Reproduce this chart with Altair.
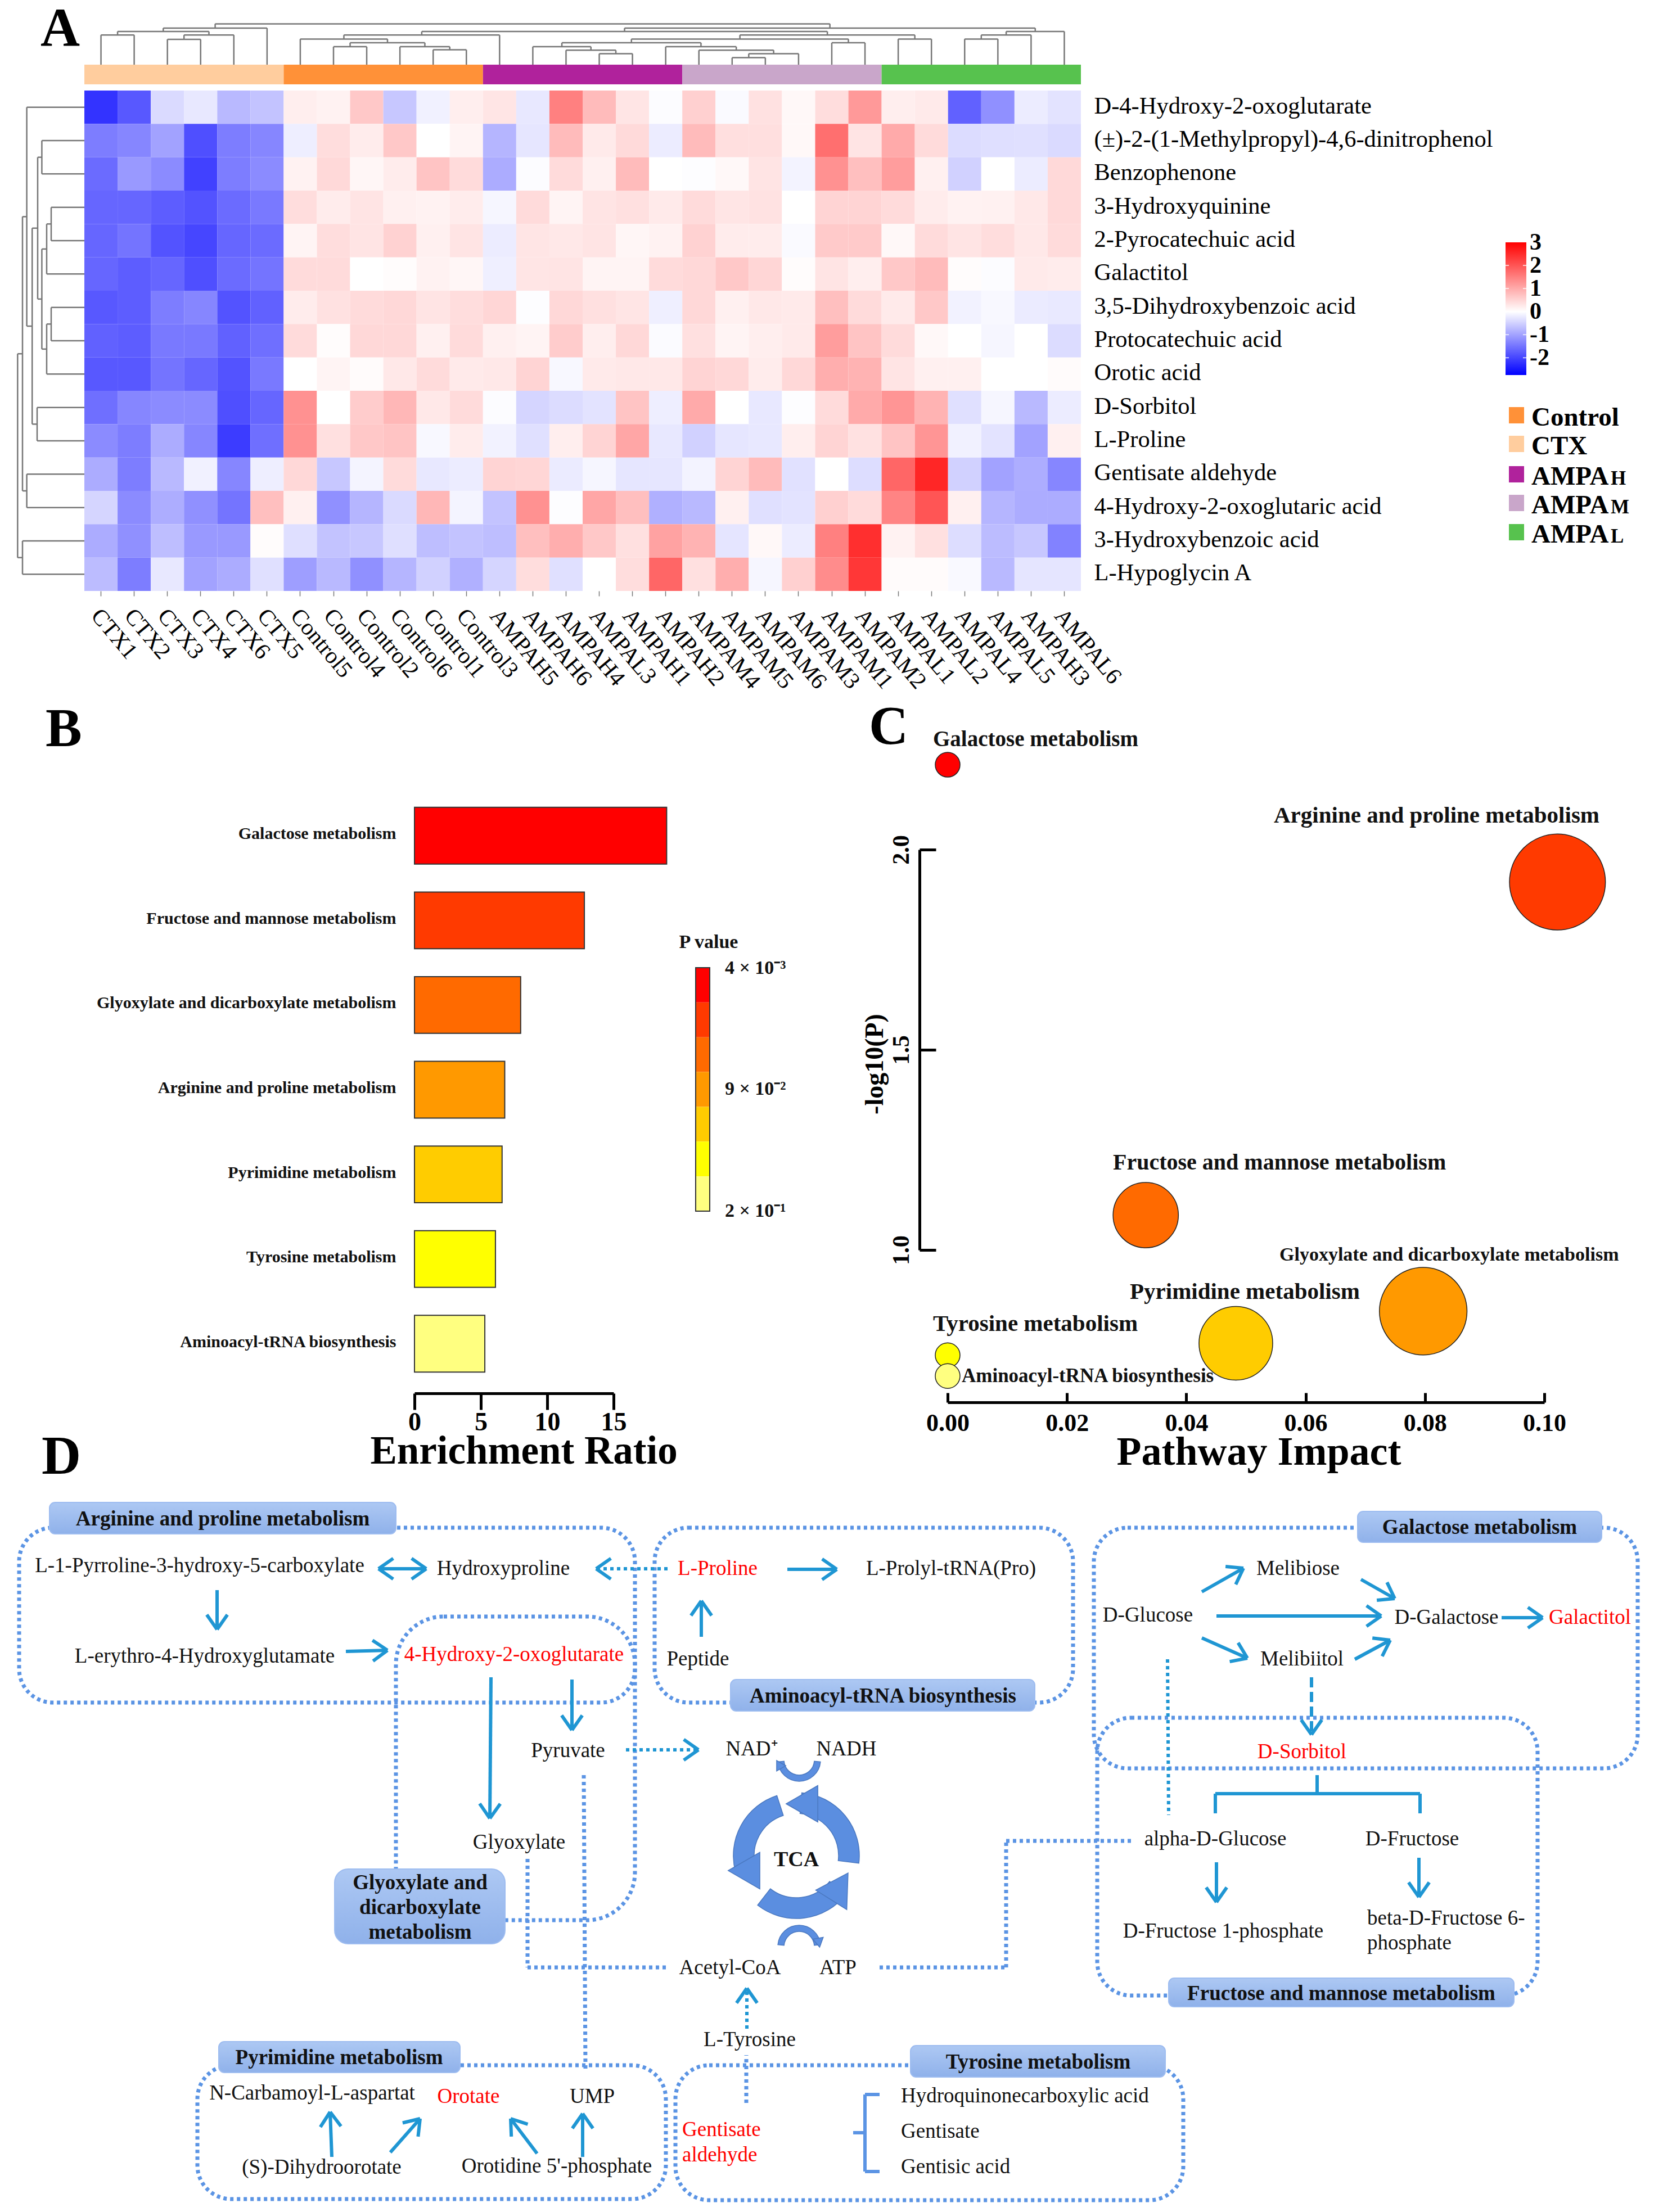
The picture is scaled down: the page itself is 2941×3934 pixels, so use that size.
import altair as alt
import pandas as pd
import math

SERIF = "Liberation Serif"
W, H = 2925, 3918

samples = ["CTX1","CTX2","CTX3","CTX4","CTX6","CTX5","Control5","Control4","Control2","Control6","Control1","Control3",
           "AMPAH5","AMPAH6","AMPAH4","AMPAL3","AMPAH1","AMPAH2","AMPAM4","AMPAM5","AMPAM6","AMPAM3","AMPAM1","AMPAM2",
           "AMPAL1","AMPAL2","AMPAL4","AMPAL5","AMPAH3","AMPAL6"]
metabolites = ["D-4-Hydroxy-2-oxoglutarate","(±)-2-(1-Methylpropyl)-4,6-dinitrophenol","Benzophenone","3-Hydroxyquinine",
               "2-Pyrocatechuic acid","Galactitol","3,5-Dihydroxybenzoic acid","Protocatechuic acid","Orotic acid",
               "D-Sorbitol","L-Proline","Gentisate aldehyde","4-Hydroxy-2-oxoglutaric acid","3-Hydroxybenzoic acid","L-Hypoglycin A"]
row01 = [-2.2,-1.8,-.4,-.25,-.75,-.65,.2,.15,.65,-.6,-.15,.2,.3,-.25,1.5,.8,.3,-.03,.55,-.05,.35,.08,.4,1.2,.2,.25,-1.7,-1.2,-.2,-.3]
row02 = [-1.4,-1.3,-1.0,-1.9,-1.4,-1.3,-.18,.4,.22,.65,0,.13,-.8,-.27,.8,.25,.43,-.2,.8,.38,.38,.08,1.7,.32,1.0,.42,-.38,-.35,-.33,-.4]
row03 = [-1.6,-1.1,-1.25,-2.05,-1.4,-1.25,.15,.45,.1,.22,.7,.42,-.9,-.03,.42,.18,.8,0,-.02,.08,.32,-.13,1.3,.75,1.15,.18,-.5,0,-.2,.45]
row04 = [-1.65,-1.65,-1.75,-1.85,-1.6,-1.45,.4,.22,.32,.18,.15,.22,-.1,.42,.13,.32,.36,.25,.42,.3,.34,0,.5,.5,.42,.22,.15,.17,.27,.45]
row05 = [-1.65,-1.5,-1.85,-2,-1.65,-1.6,.13,.4,.32,.53,.18,.32,-.2,.3,.27,.32,.1,.15,.53,.22,.22,-.05,.62,.62,.08,.42,.32,.4,.27,.42]
row06 = [-1.65,-1.75,-1.65,-1.9,-1.6,-1.5,.42,.42,0,.03,.15,.1,-.17,.3,.32,.13,.13,.42,.46,.65,.48,.03,.32,.2,.65,.8,.03,-.03,.25,.22]
row07 = [-1.8,-1.75,-1.4,-1.3,-1.85,-1.7,.22,.35,.42,.46,.32,.4,.48,-.02,.46,.36,.3,-.17,.46,.18,.27,.25,.75,.42,.25,.65,-.14,-.08,-.22,-.24]
row08 = [-1.7,-1.75,-1.45,-1.45,-1.7,-1.55,.42,.03,.46,.46,.18,.42,.18,.13,.6,.2,.46,-.04,.36,.13,.2,.25,1.15,.7,.42,.08,0,-.1,0,-.38]
row09 = [-1.8,-1.8,-1.5,-1.65,-1.85,-1.45,0,.13,.05,.27,.42,.25,.27,.5,-.08,.25,.27,.27,.5,.46,.22,.46,.95,.9,.32,.18,.18,0,0,.05]
row10 = [-1.55,-1.3,-1.25,-1.25,-1.9,-1.65,1.3,0,.6,.85,.27,.42,-.03,-.45,-.38,-.3,.7,-.18,1.0,0,-.25,-.02,.42,1.0,1.25,.9,-.33,-.1,-.75,-.2]
row11 = [-1.25,-1.4,-.9,-1.3,-2.1,-1.55,1.3,.36,.65,.7,-.08,.22,-.14,-.33,.2,.5,1.05,-.25,-.5,-.27,-.25,.2,.5,.35,.7,1.25,-.15,-.3,-1,.18]
row12 = [-.9,-1.4,-.75,-.15,-1.3,-.18,.46,-.6,-.12,.42,-.25,-.2,.5,.48,-.22,-.1,-.27,-.27,-.13,.5,.8,-.32,0,-.37,1.8,2.55,-.5,-1.0,-.88,-1.3]
row13 = [-.45,-1.25,-.88,-1.2,-1.5,.75,.18,-1.2,-.8,-.4,.85,-.12,-.65,1.3,-.02,1.05,.75,-.85,-.75,.18,-.33,-.3,.55,.42,1.45,2.0,.18,-.8,-.9,-.9]
row14 = [-.9,-1.2,-.7,-1.1,-1.1,.03,-.35,-.65,-.6,-.35,-.7,-.65,-.7,.75,.95,.65,.36,1.1,.9,-.28,.08,-.2,1.5,2.45,.15,.36,-.37,-.72,-.6,-1.35]
row15 = [-.72,-1.4,-.25,-1.0,-.9,-.33,-1.05,-.75,-1.2,-.8,-.5,-.85,-.45,.4,-.33,0,.4,1.8,.36,.95,-.1,.55,1.35,2.35,.05,.05,-.07,-.75,-.28,-.28]
matrix = [row01,row02,row03,row04,row05,row06,row07,row08,row09,row10,row11,row12,row13,row14,row15]

colorbar_ticks = [-2,-1,0,1,2,3]

groups = ["CTX","Control","AMPAH","AMPAM","AMPAL"]
group_colors = ["#ffcd9e","#ff9138","#b0229c","#c9a6ca","#57c24e"]
group_start = [0,6,12,18,24]
group_end = [6,12,18,24,30]

# tree merges: (child, child, height); child >= 0 is a leaf, child < 0 is merge number
top_merges = [(0,1,52.7),(2,3,45),(-2,4,52.7),(-1,-3,59),(-4,5,65),(7,8,32),(10,11,26.5),(9,-7,32),(-6,-8,39),(6,-9,45.6),
              (-10,12,52.7),(15,16,19.5),(14,-12,25.7),(13,-13,32),(19,20,12.4),(-15,21,19.5),(18,-16,25.7),(17,-17,32),
              (-14,-18,39),(22,23,39),(-19,-20,45.6),(24,25,45.6),(-21,-22,52.7),(-11,-23,59),(26,27,45.6),(-25,28,52.7),
              (-26,29,59),(-24,-27,65),(-5,-28,72.6)]
left_merges = [(1,2,75.6),(3,4,59),(-2,5,67),(6,7,59),(-4,8,67),(-3,-5,75.6),(-1,-6,83),(9,10,84),(-7,-8,92.8),(0,-9,102.4),
               (11,12,102.4),(-10,-11,110),(13,14,110),(-12,-13,118.7)]

pathways_b = ["Galactose metabolism","Fructose and mannose metabolism","Glyoxylate and dicarboxylate metabolism",
              "Arginine and proline metabolism","Pyrimidine metabolism","Tyrosine metabolism","Aminoacyl-tRNA biosynthesis"]
enrichment = [19.0,12.8,8.0,6.8,6.6,6.1,5.3]
bar_colors = ["#ff0000","#ff3a00","#ff6a00","#ff9900","#ffcc00","#ffff00","#ffff80"]

pathways_c = ["Galactose metabolism","Fructose and mannose metabolism","Arginine and proline metabolism",
              "Glyoxylate and dicarboxylate metabolism","Pyrimidine metabolism","Tyrosine metabolism","Aminoacyl-tRNA biosynthesis"]
impact = [0.0,0.0332,0.1022,0.0797,0.0483,0.0,0.0]
logp = [2.212,1.087,1.919,0.847,0.767,0.737,0.685]
bubble_colors = ["#ff0000","#ff6a00","#ff3a00","#ff9900","#ffcc00","#ffff00","#ffff80"]

# ---------- helpers ----------
PX = alt.Scale(domain=[0,2941], range=[-8,2933], nice=False, zero=False)
PY = alt.Scale(domain=[0,3934], range=[-8,3926], nice=False, zero=False)
px = alt.X("x:Q", scale=PX, axis=None)
py = alt.Y("y:Q", scale=PY, axis=None)

def texts(rows, bold=False, align="center"):
    df = pd.DataFrame(rows, columns=["t","x","y","fs","c"])
    return alt.Chart(df).mark_text(font=SERIF, fontWeight="bold" if bold else "normal", align=align, baseline="middle").encode(
        x=px, y=py, text="t:N", size=alt.Size("fs:Q", scale=None), color=alt.Color("c:N", scale=None))

def segs(rows, color, width, dash=None, cap="butt"):
    df = pd.DataFrame(rows, columns=["x","y","x2","y2"])
    kw = dict(color=color, strokeWidth=width, strokeCap=cap)
    if dash:
        kw["strokeDash"] = dash
    return alt.Chart(df).mark_rule(**kw).encode(x=px, y=py, x2="x2:Q", y2="y2:Q")

def head(x1,y1,x2,y2,L=32,a=35):
    ang = math.atan2(y2-y1,x2-x1)
    out = []
    for s in (-1,1):
        t = ang+math.pi+s*math.radians(a)
        out.append((x2,y2,x2+L*math.cos(t),y2+L*math.sin(t)))
    return out

def arrows(lst):
    rows = []
    for (x1,y1,x2,y2) in lst:
        rows.append((x1,y1,x2,y2))
        rows += head(x1,y1,x2,y2)
    return rows

def boxes(rows, radius):
    df = pd.DataFrame(rows, columns=["x","y","x2","y2"])
    return alt.Chart(df).mark_rect(fill="transparent", stroke="#5b94e4", strokeWidth=7, strokeDash=[6,6], cornerRadius=radius).encode(
        x=px, y=py, x2="x2:Q", y2="y2:Q")

def tree_segments(merges):
    pos, hgt, rows = {}, {}, []
    def get(c):
        return (c+.5, 0.0) if c >= 0 else (pos[-c], hgt[-c])
    for k,(a,b,h) in enumerate(merges, start=1):
        pa,ha = get(a); pb,hb = get(b)
        rows += [(pa,h,pb,h),(pa,ha,pa,h),(pb,hb,pb,h)]
        pos[k] = (pa+pb)/2; hgt[k] = h
    return pd.DataFrame(rows, columns=["p","h","p2","h2"])

layers = []

# ---------- A ----------
cols_scale = alt.Scale(domain=[0,30], range=[142,1914], nice=False, zero=False)
top_y = alt.Scale(domain=[0,74], range=[107,33], nice=False, zero=False)
layers.append(alt.Chart(tree_segments(top_merges)).mark_rule(color="#777777", strokeWidth=2.5).encode(
    x=alt.X("p:Q", scale=cols_scale, axis=None), x2="p2:Q",
    y=alt.Y("h:Q", scale=top_y, axis=None), y2="h2:Q"))
left_x = alt.Scale(domain=[0,118.7], range=[142,23.3], nice=False, zero=False)
rows_scale = alt.Scale(domain=[0,15], range=[153,1043], nice=False, zero=False)
layers.append(alt.Chart(tree_segments(left_merges)).mark_rule(color="#777777", strokeWidth=2.5).encode(
    y=alt.Y("p:Q", scale=rows_scale, axis=None), y2="p2:Q",
    x=alt.X("h:Q", scale=left_x, axis=None), x2="h2:Q"))

gdf = pd.DataFrame({"g":groups,"s":group_start,"e":group_end,"c":group_colors})
layers.append(alt.Chart(gdf).transform_calculate(a="0", b="1").mark_rect().encode(
    x=alt.X("s:Q", scale=cols_scale, axis=None), x2="e:Q",
    y=alt.Y("a:Q", scale=alt.Scale(domain=[0,1], range=[142,107], nice=False, zero=False), axis=None), y2="b:Q",
    color=alt.Color("c:N", scale=None)))

hm = pd.DataFrame([{"sample":s,"met":m,"value":matrix[i][j]} for i,m in enumerate(metabolites) for j,s in enumerate(samples)])
layers.append(alt.Chart(hm).mark_rect().encode(
    x=alt.X("sample:N", sort=samples, scale=alt.Scale(domain=samples, range=[142,1914], paddingInner=0, paddingOuter=0),
            axis=alt.Axis(orient="bottom", offset=1043-H, title=None, domain=False, tickSize=9, tickColor="#777777", tickWidth=1.5,
                          labelAngle=50, labelAlign="left", labelBaseline="middle", labelPadding=28, labelOffset=-10, labelFont=SERIF,
                          labelFontSize=41, labelColor="#000000", labelOverlap=False, labelBound=False, labelFlush=False, grid=False)),
    y=alt.Y("met:N", sort=metabolites, scale=alt.Scale(domain=metabolites, range=[153,1043], paddingInner=0, paddingOuter=0),
            axis=alt.Axis(orient="right", offset=1914-W, title=None, domain=False, ticks=False, labelPadding=23, labelOffset=-2, labelFont=SERIF,
                          labelFontSize=42.5, labelColor="#000000", labelAlign="left", labelOverlap=False, labelBound=False, labelLimit=1000, grid=False)),
    color=alt.Color("value:Q", scale=alt.Scale(domain=[-2.75,0,3], range=["#0000ff","#ffffff","#ff0000"], interpolate="rgb"), legend=None)))

# colour bar
cb_y = alt.Scale(domain=[-2.75,3], range=[659,423], nice=False, zero=False)
cb_grad = alt.LinearGradient(gradient="linear", x1=0, x2=0, y1=0, y2=1, stops=[
    alt.GradientStop(color="#ff0000", offset=0), alt.GradientStop(color="#ffffff", offset=3/5.75), alt.GradientStop(color="#0000ff", offset=1)])
layers.append(alt.Chart(pd.DataFrame({"lo":[-2.75],"hi":[3],"x":[2677],"x2":[2714]})).mark_rect(fill=cb_grad).encode(
    x=px, x2="x2:Q", y=alt.Y("lo:Q", scale=cb_y, axis=None), y2="hi:Q"))
cbt = pd.DataFrame({"v":colorbar_ticks,"x":[2720]*6,"l":[str(v) for v in colorbar_ticks]})
layers.append(alt.Chart(cbt).mark_text(font=SERIF, fontWeight="bold", fontSize=42, align="left", baseline="middle", color="#000000").encode(
    x=px, y=alt.Y("v:Q", scale=cb_y, axis=None), text="l:N"))
notch = pd.DataFrame({"v":colorbar_ticks[:-1]*2,"x":[2677]*5+[2708]*5,"x2":[2683]*5+[2714]*5})
layers.append(alt.Chart(notch).mark_rule(color="#ffffff", strokeWidth=2, opacity=.7).encode(
    x=px, x2="x2:Q", y=alt.Y("v:Q", scale=cb_y, axis=None)))

# group legend
lg_names = ["Control","CTX","AMPA","AMPA","AMPA"]
lg_suffix = ["","","H","M","L"]
lg_colors = ["#ff9138","#ffcd9e","#b0229c","#c9a6ca","#57c24e"]
lg_y = [738,789,843,894,946]
ldf = pd.DataFrame({"c":lg_colors,"y":[v-14 for v in lg_y],"y2":[v+15 for v in lg_y],"x":[2683]*5,"x2":[2710]*5})
layers.append(alt.Chart(ldf).mark_rect().encode(x=px, x2="x2:Q", y=py, y2="y2:Q", color=alt.Color("c:N", scale=None)))
layers.append(texts([(n,2723,y+5,47,"#000000") for n,y in zip(lg_names,lg_y)], bold=True, align="left"))
layers.append(texts([(s,2864,y+8,35,"#000000") for s,y in zip(lg_suffix,lg_y) if s], bold=True, align="left"))

# panel letters
layers.append(alt.Chart(pd.DataFrame({"t":["A","B","C","D"],"x":[72,81,1545,74],"y":[81,1327,1323,2621]})).mark_text(
    font=SERIF, fontWeight="bold", fontSize=97, align="left", baseline="alphabetic", color="#000000").encode(x=px, y=py, text="t:N"))

# ---------- B ----------
bdf = pd.DataFrame({"p":pathways_b,"e":enrichment,"c":bar_colors})
layers.append(alt.Chart(bdf).mark_bar(stroke="#333333", strokeWidth=2).encode(
    x=alt.X("e:Q", scale=alt.Scale(domain=[0,15], range=[729,1083], nice=False, zero=False),
            axis=alt.Axis(orient="bottom", offset=2470-H, values=[0,5,10,15], title="Enrichment Ratio", grid=False, domainWidth=5, domainColor="#000000",
                          tickWidth=5, tickColor="#000000", tickSize=29, labelPadding=22, labelBaseline="middle", labelFont=SERIF, labelFontWeight="bold",
                          labelFontSize=46, labelColor="#000000", labelFlush=False, titleFont=SERIF, titleFontWeight="bold", titleFontSize=71,
                          titleColor="#000000", titleX=923, titleY=103, titleBaseline="middle", titleAlign="center")),
    y=alt.Y("p:N", sort=pathways_b, scale=alt.Scale(domain=pathways_b, range=[1403,2457], paddingInner=0.33, paddingOuter=0.165),
            axis=alt.Axis(orient="left", offset=-730, title=None, domain=False, ticks=False, labelPadding=34, labelOffset=-3, labelFont=SERIF, labelFontWeight="bold",
                          labelFontSize=30, labelColor="#111111", labelLimit=1000, labelOverlap=False, labelBound=False, grid=False)),
    color=alt.Color("c:N", scale=None)))

# P value legend
pdf = pd.DataFrame({"step":list(range(7)),"c":bar_colors})
layers.append(alt.Chart(pdf).mark_rect().encode(
    y=alt.Y("step:O", scale=alt.Scale(domain=list(range(7)), range=[1713,2146], paddingInner=0, paddingOuter=0), axis=None),
    x=alt.value(1229), x2=alt.value(1254), color=alt.Color("c:N", scale=None)))
layers.append(alt.Chart(pd.DataFrame({"x":[1237],"y":[1721],"x2":[1262],"y2":[2154]})).mark_rect(fill="transparent", stroke="#333333", strokeWidth=2).encode(
    x=px, y=py, x2="x2:Q", y2="y2:Q"))
layers.append(texts([("P value",1260,1676,34,"#111111")], bold=True))
layers.append(texts([("4 × 10⁻³",1289,1722,34,"#111111"),("9 × 10⁻²",1289,1937,34,"#111111"),("2 × 10⁻¹",1289,2154,34,"#111111")], bold=True, align="left"))

# ---------- C ----------
cdf = pd.DataFrame({"p":pathways_c,"impact":impact,"logp":logp,"c":bubble_colors})
layers.append(alt.Chart(cdf).transform_calculate(area="pow(44+396*sqrt(datum.impact),2)").mark_point(filled=True, opacity=1, stroke="#222222", strokeWidth=1.5).encode(
    x=alt.X("impact:Q", scale=alt.Scale(domain=[0,0.10], range=[1677,2738], nice=False, zero=False),
            axis=alt.Axis(orient="top", offset=-2486, values=[0,.02,.04,.06,.08,.10], format=".2f", title="Pathway Impact", grid=False, domainWidth=5, domainColor="#000000",
                          tickWidth=5, tickColor="#000000", tickSize=17, labelPadding=-54, labelBaseline="middle", labelFont=SERIF, labelFontWeight="bold",
                          labelFontSize=44, labelColor="#000000", labelFlush=False, titleFont=SERIF, titleFontWeight="bold", titleFontSize=72,
                          titleColor="#000000", titleX=2230, titleY=88, titleBaseline="middle", titleAlign="center")),
    y=alt.Y("logp:Q", scale=alt.Scale(domain=[1,2], range=[2215,1503], nice=False, zero=False),
            axis=alt.Axis(orient="right", offset=1627-W, values=[1,1.5,2], format=".1f", title="-log10(P)", grid=False, domainWidth=5, domainColor="#000000",
                          tickWidth=5, tickColor="#000000", tickSize=29, labelPadding=-62, labelAngle=270, labelAlign="center", labelBaseline="middle", labelFont=SERIF,
                          labelFontWeight="bold", labelFontSize=42, labelColor="#000000", labelFlush=False, titleFont=SERIF, titleFontWeight="bold", titleFontSize=46,
                          titleColor="#000000", titleX=-80, titleY=1884, titleAngle=270, titleBaseline="middle", titleAlign="center")),
    color=alt.Color("c:N", scale=None),
    size=alt.Size("area:Q", scale=None)))
BLK = "#111111"
layers.append(texts([("Galactose metabolism",1659,1315,39,BLK),("Arginine and proline metabolism",2265,1451,41,BLK),
                     ("Fructose and mannose metabolism",1979,2068,40,BLK),("Glyoxylate and dicarboxylate metabolism",2275,2232,34,BLK),
                     ("Pyrimidine metabolism",2009,2298,41,BLK),("Tyrosine metabolism",1659,2355,41,BLK),
                     ("Aminoacyl-tRNA biosynthesis",1710,2447,35,BLK)], bold=True, align="left"))

# ---------- D ----------
layers.append(boxes([(34,2717,1129,3028),(1164,2717,1908,3028),(1945,2717,2912,3145),(1951,3055,2734,3549),(351,3673,1184,3911),(1201,3673,2104,3913)], 60))
layers.append(boxes([(704,2875,1129,3415)], 85))

DOT = "#5b94e4"; TEAL = "#1f96d3"
layers.append(segs([(1038,3157,1041,3681),(938,3306,938,3499),(938,3499,1187,3499),(1564,3499,1789,3499),(1789,3499,1789,3274),(1789,3274,2013,3274),(1327,3740,1327,3655)], DOT, 7, [6,6]))
layers.append(segs([(2076,2951,2078,3228)], TEAL, 6, [6,6]))

# label boxes
lb = pd.DataFrame([(88,2672,704,2728),(1299,2987,1840,3043),(389,3631,818,3686),(1619,3638,2072,3694),(2414,2688,2848,2743),(2078,3518,2692,3569)], columns=["x","y","x2","y2"])
grad = alt.LinearGradient(gradient="linear", stops=[alt.GradientStop(color="#adc8f3", offset=0), alt.GradientStop(color="#8fb1ea", offset=1)], x1=0, x2=0, y1=0, y2=1)
layers.append(alt.Chart(lb).mark_rect(fill=grad, stroke="#9dbcf0", strokeWidth=2, cornerRadius=10).encode(x=px, y=py, x2="x2:Q", y2="y2:Q"))
lb2 = pd.DataFrame([(595,3324,898,3457)], columns=["x","y","x2","y2"])
layers.append(alt.Chart(lb2).mark_rect(fill=grad, stroke="#9dbcf0", strokeWidth=2, cornerRadius=24).encode(x=px, y=py, x2="x2:Q", y2="y2:Q"))
layers.append(texts([("Arginine and proline metabolism",396,2702,37,BLK),("Aminoacyl-tRNA biosynthesis",1570,3017,37,BLK),
                     ("Glyoxylate and",747,3349,37,BLK),("dicarboxylate",747,3393,37,BLK),("metabolism",747,3437,37,BLK),
                     ("Pyrimidine metabolism",603,3660,37,BLK),("Tyrosine metabolism",1846,3668,37,BLK),
                     ("Galactose metabolism",2631,2717,37,BLK),("Fructose and mannose metabolism",2385,3546,37,BLK),
                     ("TCA",1416,3308,38,BLK)], bold=True))

# solid arrows
layers.append(segs(arrows([(673,2790,758,2790),(758,2790,673,2790),(386,2828,386,2898),(615,2937,689,2935),(873,2983,871,3234),(1017,2987,1017,3077),
                           (1400,2791,1488,2791),(1247,2911,1247,2847),(590,3836,587,3756),(694,3828,747,3768),(955,3830,908,3768),(1036,3836,1036,3759),
                           (2137,2831,2211,2789),(2163,2874,2456,2874),(2137,2913,2218,2949),(2420,2809,2480,2843),(2409,2951,2472,2917),(2670,2877,2743,2877),
                           (2163,3312,2163,3383),(2523,3304,2523,3374)]), TEAL, 6))
# dotted and dashed arrows
layers.append(segs([(1187,2790,1060,2790),(1113,3112,1242,3112),(1328,3608,1328,3536)], TEAL, 6, [6,6]))
layers.append(segs(head(1187,2790,1060,2790)+head(1113,3112,1242,3112)+head(1328,3608,1328,3536), TEAL, 6))
layers.append(segs([(2332,2983,2332,3085)], TEAL, 6, [18,8]))
layers.append(segs(head(2332,2983,2332,3085), TEAL, 6))
# brackets
layers.append(segs([(2342,3157,2342,3190),(2161,3190,2525,3190),(2161,3190,2161,3225),(2525,3190,2525,3225)], TEAL, 6))
layers.append(segs([(1564,3725,1538,3725),(1538,3725,1538,3862),(1538,3862,1564,3862),(1517,3793,1538,3793)], "#5b94e4", 6))

# TCA cycle
arc_df = pd.DataFrame({"x":[1416,1416,1416,1421,1421],"y":[3300,3300,3300,3130,3462],
                       "t1":[255,5,128,95,-85],"t2":[342,97,218,265,85],"r1":[75,75,75,27,27],"r2":[112,112,112,38,38]})
arc_df["t1"] = arc_df["t1"]*math.pi/180; arc_df["t2"] = arc_df["t2"]*math.pi/180
layers.append(alt.Chart(arc_df).mark_arc(color="#5b8ee0", stroke="#4a78c0", strokeWidth=1.5).encode(
    x=px, y=py, theta=alt.Theta("t1:Q", scale=None), theta2="t2:Q",
    radius=alt.Radius("r2:Q", scale=None), radius2="r1:Q"))
tri = pd.DataFrame({"x":[1337,1426,1493,1385,1456],"y":[3335,3208,3355,3138,3455],"a":[150,270,32,330,170],"s":[4225,4225,4225,350,350]})
layers.append(alt.Chart(tri).mark_point(shape="triangle-up", filled=True, opacity=1, color="#5b8ee0", stroke="#4a78c0", strokeWidth=1.5).encode(
    x=px, y=py, angle=alt.Angle("a:Q", scale=None), size=alt.Size("s:Q", scale=None)))

RED = "#ff0000"
FS = 37
layers.append(texts([("L-1-Pyrroline-3-hydroxy-5-carboxylate",355,2785,FS,BLK),("Hydroxyproline",895,2790,FS,BLK),("L-Proline",1276,2790,FS,RED),
                     ("L-erythro-4-Hydroxyglutamate",364,2946,FS,BLK),("4-Hydroxy-2-oxoglutarate",914,2943,FS,RED),("Peptide",1241,2951,FS,BLK),
                     ("Pyruvate",1010,3114,FS,BLK),("NAD⁺",1337,3111,FS,BLK),("Glyoxylate",923,3277,FS,BLK),("Acetyl-CoA",1298,3500,FS,BLK),
                     ("L-Tyrosine",1333,3628,FS,BLK),("N-Carbamoyl-L-aspartat",555,3723,FS,BLK),("Orotate",833,3729,FS,RED),("UMP",1053,3729,FS,BLK),
                     ("(S)-Dihydroorotate",572,3855,FS,BLK),("Orotidine 5'-phosphate",990,3853,FS,BLK),("NADH",1505,3111,FS,BLK),("ATP",1490,3500,FS,BLK),
                     ("L-Prolyl-tRNA(Pro)",1691,2790,FS,BLK),("Melibiose",2308,2790,FS,BLK),("D-Glucose",2041,2873,FS,BLK),("D-Galactose",2572,2877,FS,BLK),
                     ("Galactitol",2827,2877,FS,RED),("Melibiitol",2315,2951,FS,BLK),("D-Sorbitol",2315,3116,FS,RED),("alpha-D-Glucose",2161,3271,FS,BLK),
                     ("D-Fructose",2511,3271,FS,BLK),("D-Fructose 1-phosphate",2175,3435,FS,BLK)]))
layers.append(texts([("Gentisate",1213,3788,FS,RED),("aldehyde",1213,3833,FS,RED),("beta-D-Fructose 6-",2431,3412,FS,BLK),("phosphate",2431,3456,FS,BLK),
                     ("Hydroquinonecarboxylic acid",1602,3728,FS,BLK),("Gentisate",1602,3791,FS,BLK),("Gentisic acid",1602,3854,FS,BLK)], align="left"))

chart = alt.layer(*layers).resolve_scale(x="independent", y="independent", color="independent", size="independent", theta="independent", radius="independent", angle="independent").properties(
    width=W, height=H, padding=0, autosize=alt.AutoSizeParams(type="none"), background="#ffffff"
).configure_view(stroke=None)
chart.save("out.html", embed_options={"renderer": "svg", "actions": False})
